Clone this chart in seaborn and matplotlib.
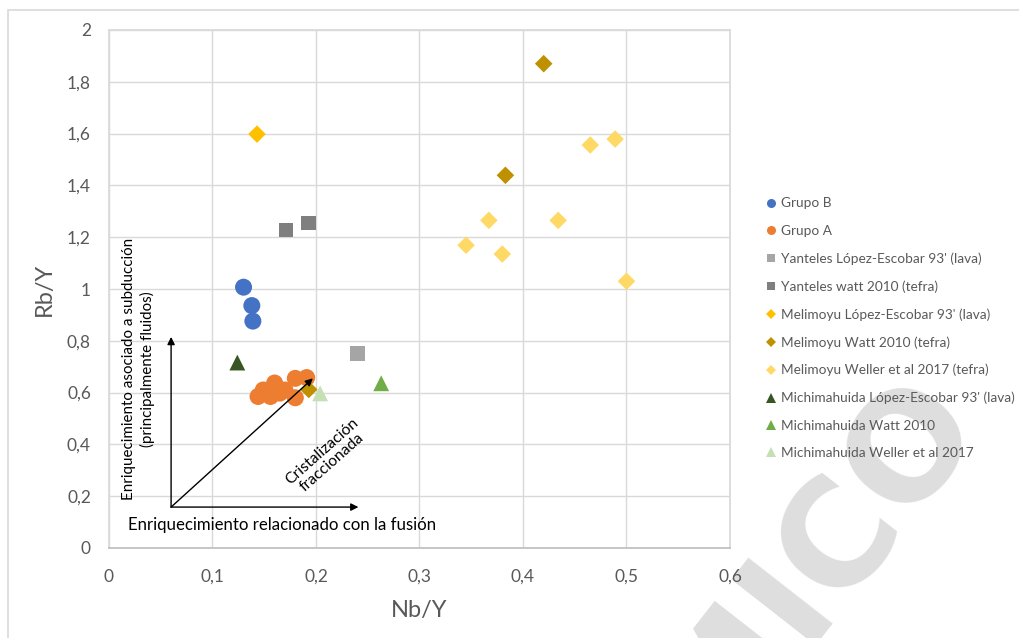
import matplotlib
matplotlib.use("Agg")
import matplotlib.pyplot as plt
from matplotlib.lines import Line2D
from matplotlib.patches import Rectangle
import pandas as pd
import seaborn as sns

# Series names (legend order)
series = [
    "Grupo B",
    "Grupo A",
    "Yanteles López-Escobar 93' (lava)",
    "Yanteles watt 2010 (tefra)",
    "Melimoyu López-Escobar 93' (lava)",
    "Melimoyu Watt 2010 (tefra)",
    "Melimoyu Weller et al 2017 (tefra)",
    "Michimahuida López-Escobar 93' (lava)",
    "Michimahuida Watt 2010",
    "Michimahuida Weller et al 2017",
]

# Nb/Y and Rb/Y values per series
grupo_b_nb = [0.130, 0.138, 0.139]
grupo_b_rb = [1.007, 0.936, 0.876]

grupo_a_nb = [0.144, 0.156, 0.149, 0.160, 0.170, 0.165, 0.180, 0.191, 0.180]
grupo_a_rb = [0.585, 0.585, 0.610, 0.637, 0.610, 0.598, 0.655, 0.658, 0.580]

yant_lopez_nb = [0.240]
yant_lopez_rb = [0.752]

yant_watt_nb = [0.171, 0.193]
yant_watt_rb = [1.228, 1.255]

meli_lopez_nb = [0.143]
meli_lopez_rb = [1.598]

meli_watt_nb = [0.420, 0.383, 0.193]
meli_watt_rb = [1.870, 1.439, 0.612]

meli_weller_nb = [0.465, 0.489, 0.367, 0.434, 0.345, 0.380, 0.500]
meli_weller_rb = [1.556, 1.579, 1.265, 1.265, 1.169, 1.135, 1.030]

michi_lopez_nb = [0.124]
michi_lopez_rb = [0.716]

michi_watt_nb = [0.263]
michi_watt_rb = [0.636]

michi_weller_nb = [0.204]
michi_weller_rb = [0.597]

x_ticks = [0, 0.1, 0.2, 0.3, 0.4, 0.5, 0.6]
x_tick_labels = ["0", "0,1", "0,2", "0,3", "0,4", "0,5", "0,6"]
y_ticks = [0, 0.2, 0.4, 0.6, 0.8, 1.0, 1.2, 1.4, 1.6, 1.8, 2.0]
y_tick_labels = ["0", "0,2", "0,4", "0,6", "0,8", "1", "1,2", "1,4", "1,6", "1,8", "2"]

values = [
    (grupo_b_nb, grupo_b_rb),
    (grupo_a_nb, grupo_a_rb),
    (yant_lopez_nb, yant_lopez_rb),
    (yant_watt_nb, yant_watt_rb),
    (meli_lopez_nb, meli_lopez_rb),
    (meli_watt_nb, meli_watt_rb),
    (meli_weller_nb, meli_weller_rb),
    (michi_lopez_nb, michi_lopez_rb),
    (michi_watt_nb, michi_watt_rb),
    (michi_weller_nb, michi_weller_rb),
]

colors = ["#4472C4", "#ED7D31", "#A5A5A5", "#7F7F7F", "#FFC000",
          "#BF9000", "#FFD966", "#375623", "#70AD47", "#C5E0B4"]
markers = ["o", "o", "s", "s", "D", "D", "D", "^", "^", "^"]
sizes = [150, 150, 110, 110, 80, 80, 80, 130, 130, 130]

rows = []
for name, (xs, ys) in zip(series, values):
    for xv, yv in zip(xs, ys):
        rows.append({"Nb/Y": xv, "Rb/Y": yv, "serie": name})
df = pd.DataFrame(rows)

sns.set_theme(style="white")
plt.rcParams["font.family"] = ["Lato", "DejaVu Sans"]

fig = plt.figure(figsize=(10.2, 6.38), dpi=100)
ax = fig.add_axes([109 / 1020, 1 - 548 / 638, 621 / 1020, 518 / 638])
ax.patch.set_alpha(0)

# outer chart frame
fig.patches.append(Rectangle((8 / 1020, -0.1), 1.2, 1 - 10 / 638 + 0.1,
                             transform=fig.transFigure, fill=False,
                             edgecolor="#d9d9d9", linewidth=1.2, zorder=-2))

for name, col, mk, sz in zip(series, colors, markers, sizes):
    sub = df[df["serie"] == name]
    sns.scatterplot(data=sub, x="Nb/Y", y="Rb/Y", color=col, marker=mk,
                    s=sz, edgecolor="none", ax=ax, legend=False, zorder=3)

ax.set_xlim(0, 0.6)
ax.set_ylim(0, 2)
ax.set_xticks(x_ticks)
ax.set_xticklabels(x_tick_labels)
ax.set_yticks(y_ticks)
ax.set_yticklabels(y_tick_labels)
ax.tick_params(axis="x", length=0, pad=15, labelsize=12.5, labelcolor="#595959")
ax.tick_params(axis="y", length=0, pad=13, labelsize=12.5, labelcolor="#595959")
ax.grid(True, color="#d9d9d9", linewidth=1)
ax.set_axisbelow(True)
for side in ["top", "right", "left"]:
    ax.spines[side].set_color("#d9d9d9")
ax.spines["bottom"].set_color("#bfbfbf")
ax.set_xlabel("Nb/Y", fontsize=17, color="#595959", labelpad=11)
ax.set_ylabel("Rb/Y", fontsize=17, color="#595959", labelpad=9)

# process arrows
arrow_kw = dict(arrowstyle="-|>", color="black", lw=1, mutation_scale=11,
                shrinkA=0, shrinkB=0)
origin = (0.06, 0.158)
ax.annotate("", xy=(0.06, 0.815), xytext=origin, arrowprops=arrow_kw, zorder=4)
ax.annotate("", xy=(0.241, 0.158), xytext=origin, arrowprops=arrow_kw, zorder=4)
ax.annotate("", xy=(0.197, 0.655), xytext=origin, arrowprops=arrow_kw, zorder=4)

ax.text(0.0285, 0.69, "Enriquecimiento asociado a subducción\n(principalmente fluidos)",
        rotation=90, ha="center", va="center", fontsize=10.9, color="black",
        linespacing=1.25)
ax.text(0.1676, 0.089, "Enriquecimiento relacionado con la fusión",
        ha="center", va="center", fontsize=12.1, color="black")
ax.text(0.2106, 0.351, "Cristalización\nfraccionada", rotation=41.5,
        ha="center", va="center", fontsize=11.3, color="black",
        rotation_mode="anchor", linespacing=1.1)

handles = [Line2D([], [], linestyle="none", marker=mk, color=col,
                  markersize=ms, markeredgewidth=0)
           for col, mk, ms in zip(colors, markers,
                                  [6.5, 6.5, 6, 6, 5.5, 5.5, 5.5, 6.5, 6.5, 6.5])]
leg = fig.legend(handles, series, loc="upper left",
                 bbox_to_anchor=(0.747, 1 - 192 / 638), frameon=False,
                 fontsize=9.8, labelspacing=1.13, handlelength=0.6,
                 handletextpad=0.4, borderaxespad=0)
for t in leg.get_texts():
    t.set_color("#595959")

# watermark, drawn beneath the axes and legend
fig.text(985 / 1020, 1 - 428 / 638, "ACADÉMICO", rotation=52, fontsize=106,
         fontweight="bold", color="#dedede",
         ha="right", va="baseline", rotation_mode="anchor",
         family=["DejaVu Sans"], zorder=-1)

fig.savefig("out.png", dpi=100, facecolor="white")
